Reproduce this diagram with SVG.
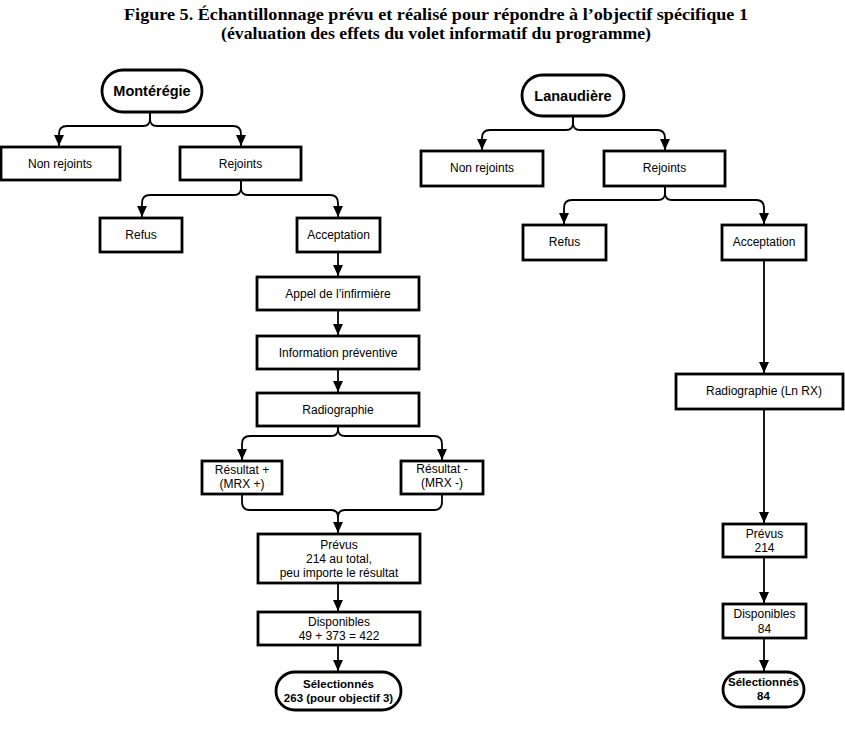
<svg xmlns="http://www.w3.org/2000/svg" width="845" height="732" viewBox="0 0 845 732">
<defs>
<marker id="ah" markerUnits="userSpaceOnUse" markerWidth="11" markerHeight="11" viewBox="0 0 10 10" refX="10" refY="5" orient="auto">
<path d="M0,0.5 L10,5 L0,9.5 z" fill="#000"/>
</marker>
<style>
.box{fill:#fff;stroke:#000;stroke-width:2.8}
.pill{fill:#fff;stroke:#000;stroke-width:2.8}
.t{font-family:"Liberation Sans",Arial,sans-serif;font-size:12px;text-anchor:middle;fill:#000}
.tb{font-family:"Liberation Sans",Arial,sans-serif;font-size:11.5px;font-weight:bold;text-anchor:middle;fill:#000}
.th{font-family:"Liberation Sans",Arial,sans-serif;font-size:14.5px;font-weight:bold;text-anchor:middle;fill:#000}
.title{font-family:"Liberation Serif","Times New Roman",serif;font-size:17px;font-weight:bold;text-anchor:middle;fill:#000}
.c{fill:none;stroke:#000;stroke-width:1.8}
.a{marker-end:url(#ah)}
</style>
</defs>
<rect width="845" height="732" fill="#fff"/>

<g id="title">
<text class="title" x="436" y="20" textLength="624" lengthAdjust="spacingAndGlyphs">Figure 5. Échantillonnage prévu et réalisé pour répondre à l’objectif spécifique 1</text>
<text class="title" x="436" y="39" textLength="430" lengthAdjust="spacingAndGlyphs">(évaluation des effets du volet informatif du programme)</text>
</g>

<g id="connectors">
<path class="c a" d="M150,112 L150,119 Q150,126 143,126 L67,126 Q59,126 59,134 L59,146"/>
<path class="c a" d="M150,112 L150,119 Q150,126 157,126 L233,126 Q241,126 241,134 L241,146"/>
<path class="c a" d="M241,180 L241,188 Q241,195 234,195 L150,195 Q142,195 142,203 L142,217"/>
<path class="c a" d="M241,180 L241,188 Q241,195 248,195 L330,195 Q338,195 338,203 L338,217"/>
<path class="c a" d="M338,252 L338,276"/>
<path class="c a" d="M338,310 L338,335"/>
<path class="c a" d="M338,369 L338,392"/>
<path class="c a" d="M338,426 L338,429 Q338,436 331,436 L250,436 Q242,436 242,444 L242,460"/>
<path class="c a" d="M338,426 L338,429 Q338,436 345,436 L434,436 Q442,436 442,444 L442,460"/>
<path class="c" d="M242,494 L242,502 Q242,510 250,510 L331,510 Q338,510 338,517"/>
<path class="c" d="M442,494 L442,502 Q442,510 434,510 L345,510 Q338,510 338,517"/>
<path class="c a" d="M338,516 L338,533"/>
<path class="c a" d="M338,583 L338,611"/>
<path class="c a" d="M338,645 L338,671"/>
<path class="c a" d="M573,116 L573,123 Q573,130 566,130 L490,130 Q482,130 482,138 L482,150"/>
<path class="c a" d="M573,116 L573,123 Q573,130 580,130 L657,130 Q665,130 665,138 L665,150"/>
<path class="c a" d="M665,186 L665,193 Q665,200 658,200 L572,200 Q564,200 564,208 L564,224"/>
<path class="c a" d="M665,186 L665,193 Q665,200 672,200 L756,200 Q764,200 764,208 L764,224"/>
<path class="c a" d="M764,260 L764,373"/>
<path class="c a" d="M764,409 L764,523"/>
<path class="c a" d="M764,557 L764,603"/>
<path class="c a" d="M764,638 L764,671"/>
</g>

<g id="monteregie">
<rect class="pill" x="102" y="70" width="100" height="42" rx="21"/>
<text class="th" x="152" y="96">Montérégie</text>
</g>
<g id="m-nonrejoints">
<rect class="box" x="1" y="147" width="119" height="33"/>
<text class="t" x="60" y="168">Non rejoints</text>
</g>
<g id="m-rejoints">
<rect class="box" x="180" y="147" width="121" height="33"/>
<text class="t" x="240.5" y="168">Rejoints</text>
</g>
<g id="m-refus">
<rect class="box" x="100" y="218" width="82" height="34"/>
<text class="t" x="141" y="239">Refus</text>
</g>
<g id="m-acceptation">
<rect class="box" x="297" y="218" width="83" height="34"/>
<text class="t" x="338.5" y="239">Acceptation</text>
</g>
<g id="m-appel">
<rect class="box" x="257" y="277" width="162" height="33"/>
<text class="t" x="338" y="298">Appel de l’infirmière</text>
</g>
<g id="m-info">
<rect class="box" x="257" y="336" width="162" height="33"/>
<text class="t" x="338" y="357">Information préventive</text>
</g>
<g id="m-radio">
<rect class="box" x="257" y="393" width="162" height="33"/>
<text class="t" x="338" y="414">Radiographie</text>
</g>
<g id="m-resplus">
<rect class="box" x="202" y="461" width="80" height="33"/>
<text class="t" x="242" y="474">Résultat +</text>
<text class="t" x="242" y="488">(MRX +)</text>
</g>
<g id="m-resmoins">
<rect class="box" x="401" y="461" width="82" height="33"/>
<text class="t" x="442" y="473">Résultat -</text>
<text class="t" x="442" y="487">(MRX -)</text>
</g>
<g id="m-prevus">
<rect class="box" x="258" y="534" width="162" height="49"/>
<text class="t" x="339" y="549">Prévus</text>
<text class="t" x="339" y="563">214 au total,</text>
<text class="t" x="339" y="577">peu importe le résultat</text>
</g>
<g id="m-disponibles">
<rect class="box" x="258" y="612" width="162" height="33"/>
<text class="t" x="339" y="626">Disponibles</text>
<text class="t" x="339" y="640">49 + 373 = 422</text>
</g>
<g id="m-selectionnes">
<rect class="pill" x="276" y="672" width="125" height="38" rx="19"/>
<text class="tb" x="338.5" y="688">Sélectionnés</text>
<text class="tb" x="338.5" y="702">263 (pour objectif 3)</text>
</g>

<g id="lanaudiere">
<rect class="pill" x="522" y="75" width="102" height="41" rx="20.5"/>
<text class="th" x="573" y="101">Lanaudière</text>
</g>
<g id="l-nonrejoints">
<rect class="box" x="421" y="151" width="122" height="35"/>
<text class="t" x="482" y="172">Non rejoints</text>
</g>
<g id="l-rejoints">
<rect class="box" x="604" y="151" width="121" height="35"/>
<text class="t" x="664.5" y="172">Rejoints</text>
</g>
<g id="l-refus">
<rect class="box" x="523" y="225" width="83" height="35"/>
<text class="t" x="564.5" y="246">Refus</text>
</g>
<g id="l-acceptation">
<rect class="box" x="722" y="225" width="84" height="35"/>
<text class="t" x="764" y="246">Acceptation</text>
</g>
<g id="l-radio">
<rect class="box" x="676" y="374" width="167" height="35"/>
<text class="t" x="764" y="395">Radiographie (Ln RX)</text>
</g>
<g id="l-prevus">
<rect class="box" x="723" y="524" width="83" height="33"/>
<text class="t" x="764.5" y="538">Prévus</text>
<text class="t" x="764.5" y="552">214</text>
</g>
<g id="l-disponibles">
<rect class="box" x="723" y="604" width="83" height="34"/>
<text class="t" x="764.5" y="618">Disponibles</text>
<text class="t" x="764.5" y="633">84</text>
</g>
<g id="l-selectionnes">
<rect class="pill" x="723" y="672" width="81" height="35" rx="17.5"/>
<text class="tb" x="763.5" y="686">Sélectionnés</text>
<text class="tb" x="763.5" y="700">84</text>
</g>
</svg>
